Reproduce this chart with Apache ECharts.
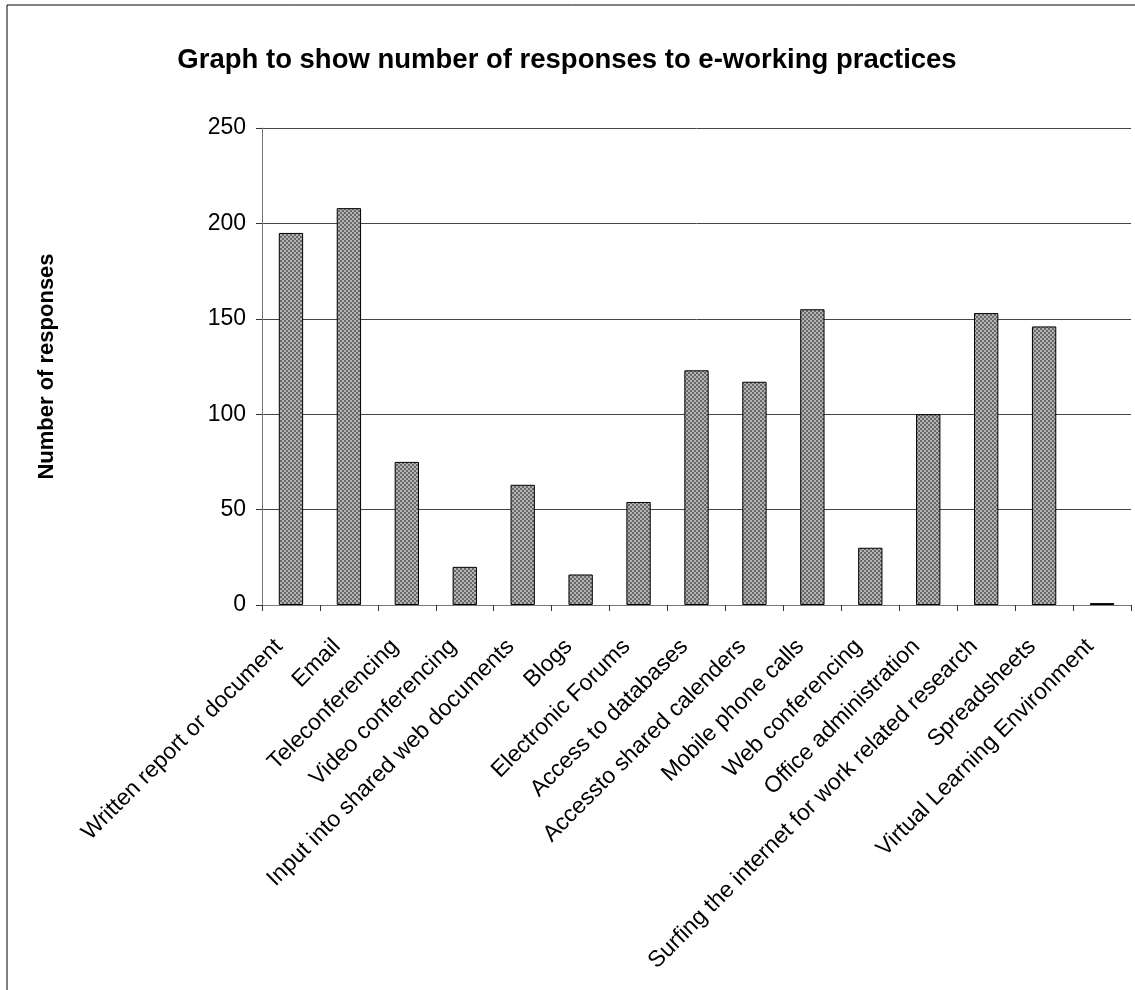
<!DOCTYPE html>
<html>
<head>
<meta charset="utf-8">
<script src="https://cdn.jsdelivr.net/npm/echarts@6/dist/echarts.min.js"></script>
<style>
  html, body { margin: 0; padding: 0; background: #fff; }
  #chart { width: 1135px; height: 990px; }
</style>
</head>
<body>
<div id="chart"></div>
<script>
// E-working practices and number of responses for each
const categories = [
  'Written report or document',
  'Email',
  'Teleconferencing',
  'Video conferencing',
  'Input into shared web documents',
  'Blogs',
  'Electronic Forums',
  'Access to databases',
  'Accessto shared calenders',
  'Mobile phone calls',
  'Web conferencing',
  'Office administration',
  'Surfing the internet for work related research',
  'Spreadsheets',
  'Virtual Learning Environment'
];
const responses = [195, 208, 75, 20, 63, 16, 54, 123, 117, 155, 30, 100, 153, 146, 1];
const yTicks = [0, 50, 100, 150, 200, 250];

// Fine checkered fill for the bars (2px cells)
function checkerPattern() {
  const c = document.createElement('canvas');
  c.width = 4; c.height = 4;
  const ctx = c.getContext('2d');
  ctx.fillStyle = '#b4b4b4';
  ctx.fillRect(0, 0, 4, 4);
  ctx.fillStyle = '#686868';
  ctx.fillRect(0, 0, 2, 2);
  ctx.fillRect(2, 2, 2, 2);
  return c;
}

const chart = echarts.init(document.getElementById('chart'));
const font = 'Arial, "Liberation Sans", sans-serif';

chart.setOption({
  animation: false,
  backgroundColor: '#fff',
  graphic: [{
    type: 'rect',
    shape: { x: 7, y: 5, width: 1140, height: 1000 },
    style: { fill: 'none', stroke: '#000', lineWidth: 1 }
  }],
  title: {
    text: 'Graph to show number of responses to e-working practices',
    left: 562,
    top: 41,
    textAlign: 'center',
    textStyle: { fontFamily: font, fontSize: 27.5, fontWeight: 'bold', color: '#000' }
  },
  grid: { left: 262, right: 4, top: 128, bottom: 385, containLabel: false },
  xAxis: {
    type: 'category',
    data: categories,
    boundaryGap: true,
    axisLine: { lineStyle: { color: '#777', width: 1 } },
    axisTick: { show: true, alignWithLabel: false, length: 6, lineStyle: { color: '#333' } },
    axisLabel: {
      interval: 0,
      rotate: 45,
      margin: 26,
      padding: [0, 17, 0, 0],
      fontFamily: font,
      fontSize: 23,
      color: '#000'
    }
  },
  yAxis: {
    type: 'value',
    min: yTicks[0],
    max: yTicks[yTicks.length - 1],
    interval: 50,
    name: 'Number of responses',
    nameLocation: 'middle',
    nameGap: 204,
    nameTextStyle: { fontFamily: font, fontSize: 22, fontWeight: 'bold', color: '#000' },
    axisLine: { show: true, lineStyle: { color: '#777', width: 1 } },
    axisTick: { show: true, length: 6, lineStyle: { color: '#333' } },
    axisLabel: { fontFamily: font, fontSize: 23, color: '#000', margin: 16 },
    splitLine: { lineStyle: { color: '#444', width: 1 } }
  },
  series: [{
    type: 'bar',
    data: responses,
    barCategoryGap: '58%',
    itemStyle: {
      color: { image: checkerPattern(), repeat: 'repeat' },
      borderColor: '#000',
      borderWidth: 1
    }
  }]
});
</script>
</body>
</html>
